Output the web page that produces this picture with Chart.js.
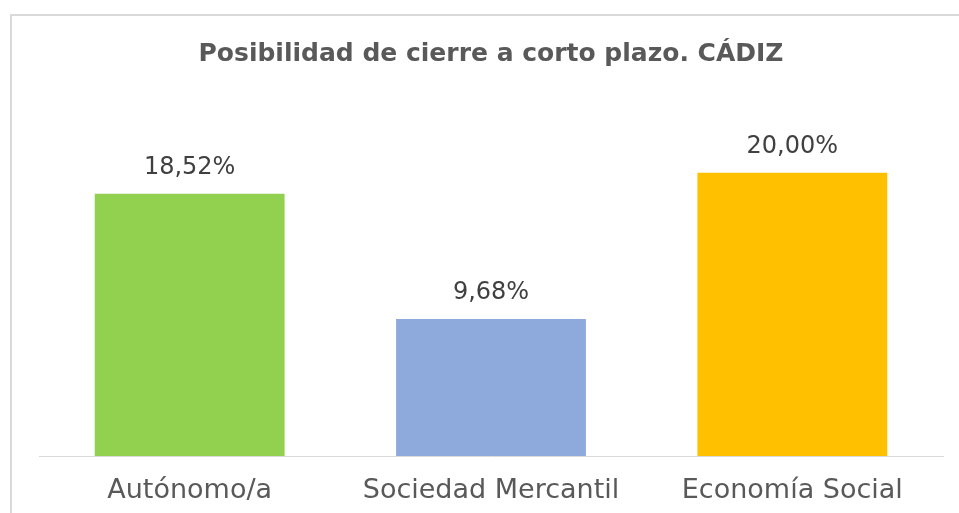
<!DOCTYPE html>
<html>
<head>
<meta charset="utf-8">
<script src="https://cdn.jsdelivr.net/npm/chart.js@4"></script>
<style>
  html, body { margin: 0; padding: 0; background: #fff; overflow: hidden; }
  .frame { position: absolute; left: 10px; top: 14px; width: 970px; height: 520px; border: 2px solid #d9d9d9; box-sizing: border-box; }
  .wrap { position: absolute; left: 0; top: 0; width: 959px; height: 513px; }
</style>
</head>
<body>
<div class="frame"></div>
<div class="wrap"><canvas id="chart"></canvas></div>
<script>
var categories = ['Autónomo/a', 'Sociedad Mercantil', 'Economía Social'];
var values = [18.52, 9.68, 20.00];
var barColors = ['#92D050', '#8EA9DB', '#FFC000'];
var chartTitle = 'Posibilidad de cierre a corto plazo. CÁDIZ';

var fontFamily = "'DejaVu Sans', sans-serif";

// draws the value above each bar
var valueLabels = {
  id: 'valueLabels',
  afterDatasetsDraw: function(chart){
    var ctx = chart.ctx;
    var meta = chart.getDatasetMeta(0);
    ctx.save();
    ctx.font = '24px ' + fontFamily;
    ctx.fillStyle = '#404040';
    ctx.textAlign = 'center';
    ctx.textBaseline = 'middle';
    meta.data.forEach(function(bar, i){
      var txt = values[i].toFixed(2).replace('.', ',') + '%';
      ctx.fillText(txt, bar.x, bar.y - 26);
    });
    ctx.restore();
  }
};

var ctx = document.getElementById('chart').getContext('2d');
var chart = new Chart(ctx, {
  type: 'bar',
  data: {
    labels: categories,
    datasets: [{
      data: values,
      backgroundColor: barColors,
      barPercentage: 0.63,
      categoryPercentage: 1
    }]
  },
  options: {
    responsive: true,
    maintainAspectRatio: false,
    animation: false,
    layout: { padding: { left: 39, right: 16, top: 0, bottom: 0 } },
    plugins: {
      legend: { display: false },
      tooltip: { enabled: false },
      title: {
        display: true,
        text: chartTitle,
        color: '#595959',
        font: { family: fontFamily, size: 25, weight: 'bold' },
        padding: { top: 39, bottom: 33 }
      }
    },
    scales: {
      x: {
        grid: { display: false, drawTicks: false },
        border: { display: true, color: '#d9d9d9', width: 1 },
        ticks: {
          color: '#595959',
          font: { family: fontFamily, size: 27 },
          padding: 19
        },
        afterFit: function(scale){ scale.height = 57; }
      },
      y: {
        display: false,
        min: 0,
        max: 25
      }
    }
  },
  plugins: [valueLabels]
});
</script>
</body>
</html>
